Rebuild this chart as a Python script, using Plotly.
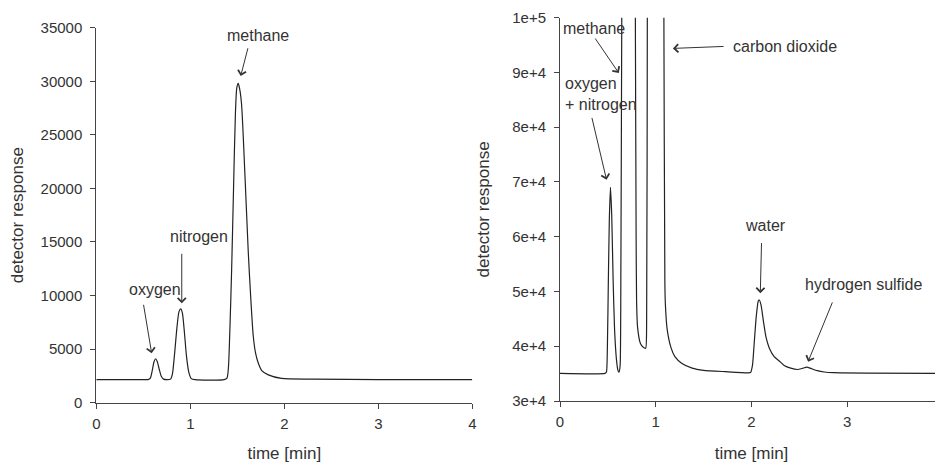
import plotly.graph_objects as go

# ---------------- data ----------------
# Left chromatogram
left_time = [0.0, 0.50, 0.55, 0.575, 0.595, 0.615, 0.632, 0.65, 0.67, 0.69, 0.715, 0.75,
             0.79, 0.81, 0.83, 0.86, 0.88, 0.898, 0.915, 0.935, 0.96, 0.985, 1.01, 1.05,
             1.36, 1.39, 1.405, 1.42, 1.44, 1.46, 1.48, 1.495, 1.51, 1.525, 1.545, 1.58,
             1.617, 1.645, 1.67, 1.695, 1.723, 1.76, 1.83, 1.97, 2.3, 3.0, 4.0]
left_resp = [2150, 2150, 2160, 2300, 3000, 3850, 4100, 3800, 3100, 2500, 2200, 2150,
             2200, 2700, 4300, 7200, 8500, 8750, 8400, 6800, 4300, 2800, 2250, 2150,
             2150, 2300, 3200, 6500, 12500, 20000, 27000, 29400, 29800, 29300, 27900, 21500,
             14000, 9500, 6200, 4600, 3700, 3000, 2600, 2270, 2200, 2150, 2150]

# Right chromatogram
right_time = [0.0, 0.47, 0.485, 0.495, 0.505, 0.515, 0.527, 0.54, 0.555, 0.57, 0.59, 0.605,
              0.616, 0.628, 0.636, 0.645, 0.66, 0.715, 0.77, 0.787, 0.795, 0.80, 0.81, 0.84,
              0.87, 0.895, 0.905, 0.912, 0.93, 1.0, 1.07, 1.085, 1.095, 1.10, 1.12, 1.16,
              1.20, 1.27, 1.38, 1.50, 1.73, 1.96, 1.99, 2.01, 2.03, 2.05, 2.07, 2.082,
              2.10, 2.125, 2.15, 2.19, 2.237, 2.29, 2.341, 2.41, 2.48, 2.53, 2.577, 2.62,
              2.687, 2.76, 2.86, 3.2, 4.0]
right_resp = [35050, 35050, 35300, 40000, 52000, 63000, 69000, 64000, 52000, 43000, 37500, 35600,
              35250, 36500, 55000, 100000, 180000, 350000, 180000, 100000, 60000, 48000, 43500, 40500,
              39800, 39630, 45000, 100000, 200000, 500000, 200000, 100000, 52000, 47860, 42980, 39700,
              38100, 36900, 36000, 35600, 35350, 35150, 35200, 36500, 41000, 45500, 48200, 48450,
              47500, 44500, 41800, 39500, 38100, 37300, 36500, 36000, 35750, 35950, 36200, 35950,
              35550, 35300, 35170, 35100, 35050]

left_yticks = [0, 5000, 10000, 15000, 20000, 25000, 30000, 35000]
right_yticks = [30000, 40000, 50000, 60000, 70000, 80000, 90000, 100000]
right_yticktext = ["3e+4", "4e+4", "5e+4", "6e+4", "7e+4", "8e+4", "9e+4", "1e+5"]
xticks = [0, 1, 2, 3, 4]

# annotations: (label, text_x, text_y, tail_x, tail_y, tip_x, tip_y)
left_labels = [
    ("oxygen", 0.628, 10610, 0.50, 9277, 0.589, 4611),
    ("nitrogen", 1.093, 15493, 0.909, 14037, 0.909, 9277),
    ("methane", 1.723, 34318, 1.617, 33226, 1.536, 30491),
]
right_labels = [
    ("methane", 0.356, 97995, 0.357, 96478, 0.614, 89897),
    ("carbon dioxide", 2.355, 94760, 1.724, 94760, 1.179, 94394),
    ("water", 2.146, 61987, 2.105, 59117, 2.092, 49686),
    ("hydrogen sulfide", 3.174, 51330, 2.851, 48278, 2.591, 37183),
]
right_multi = ("oxygen<br>+ nitrogen", 0.031, 86078, 0.33, 81965, 0.486, 70394)

# ---------------- figure ----------------
# the page body has an 8px margin, so the figure is 8px smaller than the window
W, H = 935, 455
OFF = 8
FONT = "Liberation Sans, Arial, sans-serif"
TXT = "#333333"
AX = "#444444"

fig = go.Figure()
fig.add_trace(go.Scatter(x=left_time, y=left_resp, mode="lines",
                         line=dict(color="#222222", width=1.2, shape="spline", smoothing=0.7),
                         xaxis="x", yaxis="y", showlegend=False, hoverinfo="skip"))
fig.add_trace(go.Scatter(x=right_time, y=right_resp, mode="lines",
                         line=dict(color="#222222", width=1.2, shape="spline", smoothing=0.5),
                         xaxis="x2", yaxis="y2", showlegend=False, hoverinfo="skip"))

axis_common = dict(showline=True, linecolor=AX, linewidth=1, ticks="outside", ticklen=5,
                   tickcolor=AX, tickwidth=1, showgrid=False, zeroline=False, automargin=False,
                   tickfont=dict(family=FONT, size=15, color=TXT))
title_font = dict(family=FONT, size=17, color=TXT)

fig.update_layout(
    width=W, height=H, margin=dict(l=0, r=0, t=0, b=0),
    paper_bgcolor="white", plot_bgcolor="white",
    font=dict(family=FONT, color=TXT),
    xaxis=dict(domain=[(96.3 - OFF) / W, (472.3 - OFF) / W], range=[0, 4], tickvals=xticks,
               anchor="y", ticklabelstandoff=2,
               title=dict(text="time [min]", font=title_font, standoff=18), **axis_common),
    yaxis=dict(domain=[60.3 / H, 435.3 / H], range=[0, 35000], tickvals=left_yticks,
               tickformat="d", anchor="x", ticklabelstandoff=5,
               title=dict(text="detector response", font=title_font, standoff=12), **axis_common),
    xaxis2=dict(domain=[(560 - OFF) / W, 1.0], range=[0, 4], tickvals=xticks,
                anchor="y2", ticklabelstandoff=2, ticklabeloverflow="allow",
                title=dict(text="time [min]", font=title_font, standoff=18), **axis_common),
    yaxis2=dict(domain=[62 / H, 445.3 / H], range=[30000, 100000], tickvals=right_yticks,
                ticktext=right_yticktext, anchor="x2", ticklabelstandoff=5,
                title=dict(text="detector response", font=title_font, standoff=18), **axis_common),
)

ann = []
def add_labels(labels, xr, yr, align="center", xanchor="center"):
    for lab, tx, ty, ax_, ay_, px, py in labels:
        ann.append(dict(x=tx, y=ty, xref=xr, yref=yr, text=lab, showarrow=False,
                        font=dict(family=FONT, size=16, color=TXT), align=align,
                        xanchor=xanchor, yanchor="middle"))
        ann.append(dict(x=px, y=py, xref=xr, yref=yr, ax=ax_, ay=ay_, axref=xr, ayref=yr,
                        text="", showarrow=True, arrowhead=4, arrowsize=1.6,
                        arrowwidth=1, arrowcolor="#333333"))

add_labels(left_labels, "x", "y")
add_labels(right_labels, "x2", "y2")
add_labels([right_multi], "x2", "y2", align="left", xanchor="left")
fig.update_layout(annotations=ann)

fig.write_html("out.html")
